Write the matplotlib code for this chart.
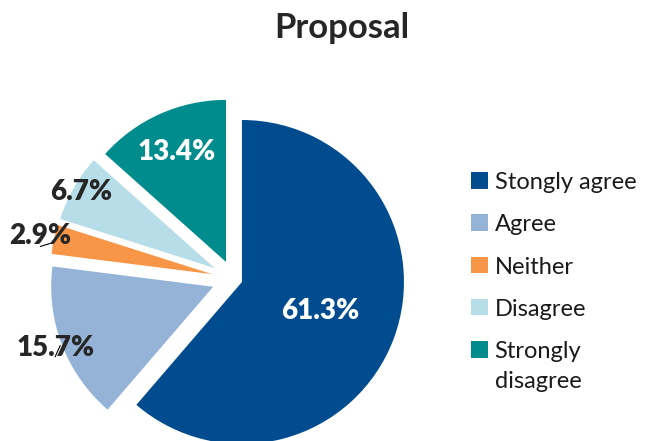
import numpy as np
import matplotlib
matplotlib.use('Agg')
import matplotlib.pyplot as plt

# data
categories = ['Stongly agree', 'Agree', 'Neither', 'Disagree', 'Strongly\ndisagree']
values = [61.3, 15.7, 2.9, 6.7, 13.4]
colors = ['#004C8F', '#95B3D7', '#F79646', '#B7DDE8', '#008C8C']
label_colors = ['white', '#262626', '#262626', '#262626', 'white']

# layout (pixels of a 646x441 canvas)
radius = 162
explode = [0.055, 0.135, 0.135, 0.135, 0.115]
label_dist = [0.57, 1.18, 1.22, 1.08, 0.86]
center = (233.6, 441 - 278.9)
# short leader lines (dx0, dy0, dx1, dy1 from label centre), only some labels have them
leaders = {1: (0, -9, 5, 2), 2: (0, -10, 13, -6)}

plt.rcParams['font.family'] = ['Lato', 'DejaVu Sans']

fig = plt.figure(figsize=(6.46, 4.41), dpi=100)
ax = fig.add_axes([0, 0, 1, 1])

wedges, _ = ax.pie(values, colors=colors, startangle=90, counterclock=False,
                   explode=[e * radius for e in explode], radius=radius, center=center,
                   wedgeprops=dict(linewidth=0), frame=True)
ax.set_xlim(0, 646)
ax.set_ylim(0, 441)
ax.set_aspect('equal')
ax.axis('off')

for i, (w, v, d, c) in enumerate(zip(wedges, values, label_dist, label_colors)):
    mid = np.deg2rad((w.theta1 + w.theta2) / 2)
    x = center[0] + d * radius * np.cos(mid)
    y = center[1] + d * radius * np.sin(mid)
    ax.text(x, y, f'{v:.1f}%', color=c, fontsize=20, fontweight='heavy',
            ha='center', va='center', zorder=5)
    if i in leaders:
        dx0, dy0, dx1, dy1 = leaders[i]
        ax.plot([x + dx0, x + dx1], [y + dy0, y + dy1], color='black', lw=0.8, zorder=4)

ax.text(342, 441 - 28, 'Proposal', fontsize=25, fontweight='bold',
        color='#262626', ha='center', va='center')

leg = ax.legend(wedges, categories, loc='upper left', bbox_to_anchor=(471 / 646, 1 - 172 / 441),
                frameon=False, fontsize=17, handlelength=0.7, handleheight=0.7,
                handletextpad=0.3, labelspacing=0.9, borderpad=0, borderaxespad=0)
for t in leg.get_texts():
    t.set_color('#1a1a1a')
    t.set_linespacing(1.55)
# keep the square next to the first line of a two-line label
for col in leg._legend_handle_box.get_children():
    for row in col.get_children():
        row.align = 'top'

fig.savefig('out.png', dpi=100)
